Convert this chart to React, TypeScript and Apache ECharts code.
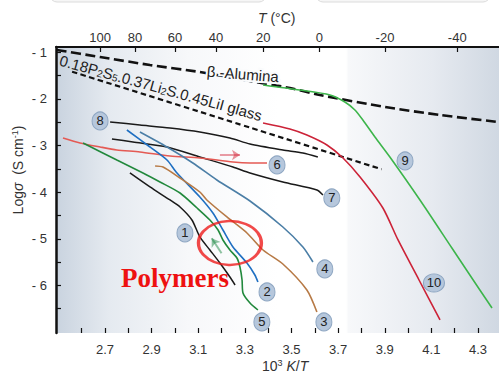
import React, { useEffect, useRef } from 'react';
import * as echarts from 'echarts';

// ---- axis ticks / labels ----
const xTickValues = [2.6, 2.7, 2.8, 2.9, 3.0, 3.1, 3.2, 3.3, 3.4, 3.5, 3.6, 3.7, 3.8, 3.9, 4.0, 4.1, 4.2, 4.3];
const xLabelValues = [2.7, 2.9, 3.1, 3.3, 3.5, 3.7, 3.9, 4.1, 4.3];
const yLabelValues = [-6, -5, -4, -3, -2, -1];
const yTickValues = [-6.5, -6, -5.5, -5, -4.5, -4, -3.5, -3, -2.5, -2, -1.5, -1];
const topTempLabels = [100, 80, 60, 40, 20, 0, -20, -40];
// positions of the temperature ticks on the 10^3/T scale (as drawn in the figure)
const topTempPositions = [2.679, 2.829, 3.0, 3.176, 3.379, 3.619, 3.901, 4.211];

// ---- curves: [10^3/T, log sigma] ----
const betaAlumina = [[2.493, -0.954], [2.679, -1.104], [2.893, -1.276], [3.107, -1.426], [3.322, -1.619], [3.493, -1.769], [3.622, -1.919], [3.901, -2.176], [4.137, -2.347], [4.385, -2.497]];
const glass = [[2.559, -1.419], [3.322, -2.617], [3.887, -3.511]];
const curve9 = [[3.378, -1.704], [3.536, -1.812], [3.665, -1.919], [3.729, -2.069], [3.772, -2.24], [3.806, -2.455], [3.858, -2.819], [3.922, -3.247], [4.051, -4.169], [4.188, -5.198], [4.265, -5.777], [4.36, -6.484]];
const curve10 = [[3.378, -2.519], [3.493, -2.647], [3.566, -2.776], [3.652, -2.99], [3.721, -3.269], [3.794, -3.676], [3.892, -4.341], [3.957, -5.026], [4.047, -5.884], [4.137, -6.741]];
const curve8 = [[2.722, -2.497], [2.85, -2.562], [2.979, -2.626], [3.107, -2.712], [3.236, -2.84], [3.322, -2.969], [3.463, -3.097], [3.549, -3.162], [3.613, -3.247]];
const curve7 = [[2.73, -2.862], [2.82, -2.926], [2.966, -3.033], [3.107, -3.247], [3.249, -3.462], [3.322, -3.59], [3.463, -3.783], [3.609, -3.955], [3.635, -4.062]];
const curve6 = [[2.52, -2.84], [2.593, -2.947], [2.679, -3.033], [2.751, -3.097], [2.85, -3.14], [2.979, -3.226], [3.107, -3.269], [3.249, -3.355], [3.322, -3.376], [3.395, -3.376]];
const curve5 = [[2.606, -2.947], [2.751, -3.312], [2.863, -3.59], [2.936, -3.783], [3.022, -4.019], [3.095, -4.341], [3.15, -4.598], [3.185, -4.812], [3.206, -5.026], [3.236, -5.241], [3.266, -5.412], [3.279, -5.605], [3.288, -5.884], [3.292, -6.162], [3.322, -6.377], [3.356, -6.527]];
const curve2 = [[2.794, -2.669], [2.893, -3.033], [2.966, -3.312], [3.009, -3.59], [3.107, -4.105], [3.163, -4.448], [3.206, -4.812], [3.249, -5.176], [3.309, -5.52], [3.343, -5.777], [3.356, -5.927]];
const curve4 = [[2.85, -2.712], [2.966, -3.033], [3.077, -3.376], [3.18, -3.74], [3.322, -4.191], [3.463, -4.748], [3.549, -5.176], [3.592, -5.498]];
const curve3 = [[2.915, -3.44], [2.949, -3.462], [3.022, -3.698], [3.107, -3.998], [3.137, -4.169], [3.223, -4.533], [3.309, -4.876], [3.378, -5.241], [3.463, -5.541], [3.566, -6.098], [3.609, -6.57]];
const curve1 = [[2.807, -3.59], [2.893, -3.89], [2.979, -4.169], [3.022, -4.319], [3.073, -4.598], [3.107, -4.962], [3.15, -5.241], [3.193, -5.52], [3.236, -5.82], [3.258, -5.991]];

// ---- annotations ----
const redArrow = [[3.193, -3.205], [3.279, -3.205]];
const greenArrow = [[3.2, -5.311], [3.158, -4.99]];
const polymerCircleCenter = [3.236, -5.091];
const badgeLabels = ['8', '6', '7', '9', '1', '4', '2', '10', '5', '3'];
const badgeX = [2.679, 3.438, 3.673, 3.987, 3.043, 3.643, 3.395, 4.111, 3.373, 3.639];
const badgeY = [-2.476, -3.419, -4.126, -3.333, -4.876, -5.648, -6.141, -5.948, -6.784, -6.784];

const SANS = '"Liberation Sans", Arial, Helvetica, sans-serif';

function lineSeries(name: string, data: number[][], color: string, width: number, dash?: number[]) {
  return {
    name,
    type: 'line',
    data,
    smooth: 0.25,
    showSymbol: false,
    symbol: 'none',
    silent: true,
    z: 3,
    lineStyle: { color, width, type: dash ? dash : 'solid', cap: 'butt' },
  };
}

export default function App() {
  const ref = useRef<HTMLDivElement>(null);
  useEffect(() => {
    document.body.style.margin = '0';
    if (!ref.current) return;
    const chart = echarts.init(ref.current, null, { renderer: 'svg', width: 499, height: 374 });

    const bg = new echarts.graphic.LinearGradient(0, 0, 1, 0, [
      { offset: 0, color: '#c9d3df' },
      { offset: 0.12, color: '#e5eaf0' },
      { offset: 0.3, color: '#f7f8fa' },
      { offset: 0.5, color: '#ffffff' },
      { offset: 0.655, color: '#ffffff' },
      { offset: 0.66, color: '#f7f8fa' },
      { offset: 0.85, color: '#e6eaf0' },
      { offset: 1, color: '#d0d8e2' },
    ]);

    const option: any = {
      animation: false,
      grid: {
        left: 56, right: 0, top: 47, bottom: 41,
        show: true, backgroundColor: bg, borderWidth: 0,
        containLabel: false, outerBoundsMode: 'none',
      },
      xAxis: [
        {
          type: 'value', min: 2.49, max: 4.39, position: 'bottom',
          axisLine: { show: true, onZero: false, lineStyle: { color: '#111', width: 2.5, shadowColor: 'rgba(0,0,0,0.35)', shadowOffsetY: 2, shadowBlur: 1 } },
          axisTick: { show: true, inside: true, length: 5, customValues: xTickValues, lineStyle: { color: '#111', width: 1.2 } },
          axisLabel: { customValues: xLabelValues, margin: 10, color: '#333', fontSize: 13, fontFamily: SANS, formatter: (v: number) => v.toFixed(1) },
          splitLine: { show: false },
        },
        {
          type: 'value', min: 2.49, max: 4.39, position: 'top',
          axisLine: { show: true, onZero: false, lineStyle: { color: '#111', width: 2 } },
          axisTick: { show: true, inside: true, length: 5, customValues: topTempPositions, lineStyle: { color: '#111', width: 1.2 } },
          axisLabel: {
            customValues: topTempPositions, margin: 3, color: '#333', fontSize: 13, fontFamily: SANS,
            formatter: (v: number) => {
              const i = topTempPositions.findIndex((p) => Math.abs(p - v) < 1e-6);
              return i >= 0 ? String(topTempLabels[i]) : '';
            },
          },
          splitLine: { show: false },
        },
      ],
      yAxis: {
        type: 'value', min: -7.02, max: -0.89,
        axisLine: { show: true, onZero: false, lineStyle: { color: '#111', width: 2.5 } },
        axisTick: { show: true, inside: true, length: 5, customValues: yTickValues, lineStyle: { color: '#111', width: 1.2 } },
        axisLabel: { customValues: yLabelValues, margin: 9, color: '#333', fontSize: 13, fontFamily: SANS, formatter: (v: number) => '- ' + Math.abs(v) },
        splitLine: { show: false },
      },
      series: [
        lineSeries('β-Alumina', betaAlumina, '#111', 2.6, [10, 4.5]),
        lineSeries('glass', glass, '#111', 2.2, [5.5, 3.5]),
        lineSeries('9', curve9, '#3db54b', 1.6),
        lineSeries('10', curve10, '#cc2338', 1.6),
        lineSeries('8', curve8, '#1a1a1a', 1.5),
        lineSeries('7', curve7, '#1a1a1a', 1.5),
        lineSeries('6', curve6, '#e45a54', 1.6),
        lineSeries('5', curve5, '#22893d', 1.6),
        lineSeries('2', curve2, '#1f6fc2', 1.6),
        lineSeries('4', curve4, '#4b7ea6', 1.6),
        lineSeries('3', curve3, '#b77a46', 1.6),
        lineSeries('1', curve1, '#1a1a1a', 1.5),
        {
          type: 'lines', coordinateSystem: 'cartesian2d', silent: true, z: 4,
          symbol: ['none', 'arrow'], symbolSize: 8,
          data: [
            { coords: redArrow, lineStyle: { color: '#d3283a', width: 1.8 } },
            { coords: greenArrow, lineStyle: { color: '#1f8a45', width: 2 } },
          ],
        },
        {
          type: 'scatter', silent: true, z: 5,
          symbol: 'circle', symbolSize: [63, 44],
          itemStyle: { color: 'rgba(0,0,0,0)', borderColor: '#ee1c1c', borderWidth: 2.8 },
          data: [polymerCircleCenter],
        },
        {
          type: 'scatter', silent: true, z: 6,
          symbol: 'circle',
          data: badgeLabels.map((l, i) => ({
            value: [badgeX[i], badgeY[i]], name: l,
            symbolSize: l.length > 1 ? [21, 18] : [16, 18],
          })),
          itemStyle: { color: '#b6c7dc', borderColor: '#8ea6c2', borderWidth: 1, opacity: 1 },
          label: { show: true, position: 'inside', formatter: (p: any) => p.name, color: '#222', fontSize: 13, fontFamily: SANS },
        },
      ],
      graphic: [
        { type: 'rect', silent: true, shape: { x: 50, y: -12, width: 216, height: 14, r: 8 }, style: { fill: '#f6f6f6', stroke: '#dcdcdc', lineWidth: 1 } },
        { type: 'rect', silent: true, shape: { x: 316, y: -12, width: 174, height: 14, r: 8 }, style: { fill: '#f6f6f6', stroke: '#dcdcdc', lineWidth: 1 } },
        {
          type: 'text', x: 258, y: 18, silent: true,
          style: {
            text: '{i|T} (°C)', fill: '#333', fontSize: 14, fontFamily: SANS,
            align: 'left', verticalAlign: 'middle', textAlign: 'left', textVerticalAlign: 'middle',
            rich: { i: { fontStyle: 'italic', fontSize: 14, fontFamily: SANS, fill: '#333' } },
          },
        },
        {
          type: 'text', x: 262, y: 366, silent: true,
          style: {
            text: '10{sup|3} {i|K}{n|/}{i|T}', fill: '#333', fontSize: 14, fontFamily: SANS,
            align: 'left', verticalAlign: 'middle', textAlign: 'left', textVerticalAlign: 'middle',
            rich: {
              sup: { fontSize: 9, verticalAlign: 'top', fontFamily: SANS, fill: '#333', lineHeight: 16 },
              i: { fontStyle: 'italic', fontSize: 14, fontFamily: SANS, fill: '#333', lineHeight: 16 },
              n: { fontSize: 14, fontFamily: SANS, fill: '#333', lineHeight: 16 },
            },
          },
        },
        {
          type: 'text', x: 18, y: 170, rotation: Math.PI / 2, silent: true,
          style: {
            text: 'Log{i|σ}  (S cm{sup|-1})', fill: '#333', fontSize: 14, fontFamily: SANS,
            align: 'center', verticalAlign: 'middle', textAlign: 'center', textVerticalAlign: 'middle',
            rich: {
              sup: { fontSize: 9, verticalAlign: 'top', fontFamily: SANS, fill: '#333', lineHeight: 16 },
              i: { fontStyle: 'italic', fontSize: 14, fontFamily: SANS, fill: '#333', lineHeight: 16 },
            },
          },
        },
        {
          type: 'text', x: 207, y: 71, rotation: -0.08, silent: true, z: 10,
          style: {
            text: 'β -Alumina', fill: '#222', fontSize: 15, fontFamily: SANS,
            stroke: '#fafbfc', lineWidth: 4,
            align: 'left', verticalAlign: 'middle', textAlign: 'left', textVerticalAlign: 'middle',
          },
        },
        {
          type: 'text', x: 60, y: 60, rotation: -0.27, silent: true,
          style: {
            text: '0.18P{s|2}S{s|5}.0.37Li{s|2}S.0.45LiI glass', fill: '#222', fontSize: 15, fontFamily: SANS,
            align: 'left', verticalAlign: 'middle', textAlign: 'left', textVerticalAlign: 'middle',
            rich: {
              s: { fontSize: 10, verticalAlign: 'bottom', fontFamily: SANS, fill: '#222', lineHeight: 15 },
            },
          },
        },
        {
          type: 'text', x: 121, y: 278, silent: true,
          style: {
            text: 'Polymers', fill: '#ee1111', fontSize: 27, fontWeight: 'bold', fontFamily: '"Liberation Serif", "Times New Roman", serif',
            align: 'left', verticalAlign: 'middle', textAlign: 'left', textVerticalAlign: 'middle',
          },
        },
      ],
    };
    chart.setOption(option);
    return () => chart.dispose();
  }, []);
  return <div ref={ref} style={{ width: 499, height: 374 }} />;
}
